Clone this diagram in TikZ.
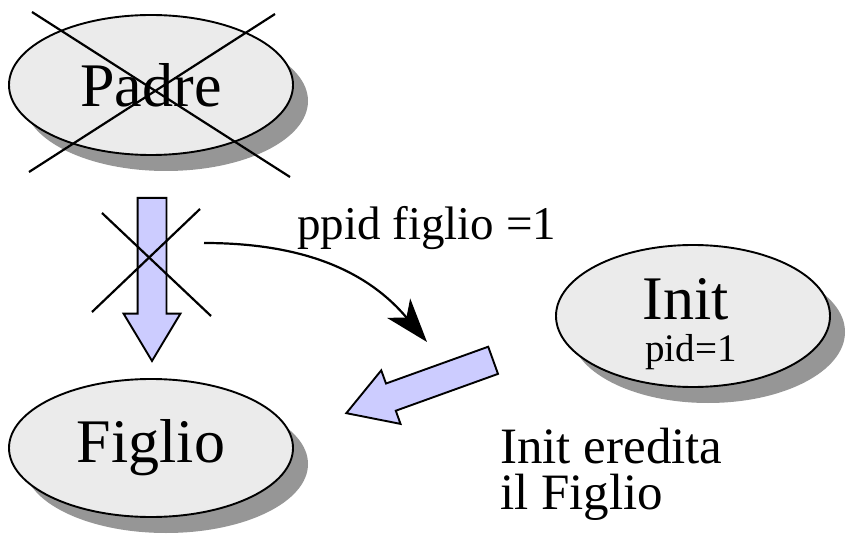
\documentclass[tikz,border=0pt]{standalone}
\usepackage{fontspec}
\setmainfont{Liberation Serif}
\usetikzlibrary{shapes.geometric,shapes.arrows,shadows,arrows.meta}
\definecolor{procgray}{RGB}{235,235,235}
\definecolor{shadowgray}{RGB}{150,150,150}
\definecolor{arrowblue}{RGB}{204,204,255}
\newcommand{\bigfont}{\fontsize{62}{70}\selectfont}
\newcommand{\ppidfont}{\fontsize{47}{52}\selectfont}
\newcommand{\notefont}{\fontsize{51}{46}\selectfont}
\newcommand{\smallfont}{\fontsize{39}{44}\selectfont}
\tikzset{
  proc/.style={ellipse, draw, line width=1.9pt, fill=procgray, inner sep=0pt,
    drop shadow={shadow xshift=15pt, shadow yshift=-16pt, fill=shadowgray, opacity=1}},
  fatarrow/.style={single arrow, draw, line width=1.9pt, fill=arrowblue,
    inner xsep=0pt, inner ysep=13.5pt, single arrow head extend=14pt,
    single arrow tip angle=62, single arrow head indent=0pt, anchor=tail},
  cross/.style={line width=2.2pt}
}
\begin{document}
\begin{tikzpicture}[x=1pt,y=-1pt]
\useasboundingbox (0,0) rectangle (859,534);
% processes
\node[proc, minimum width=284pt, minimum height=140pt] (padre) at (151,85) {\bigfont Padre};
\node[proc, minimum width=284pt, minimum height=138pt] (figlio) at (151,448) {\bigfont Figlio};
\node[proc, minimum width=274pt, minimum height=142pt] (init) at (693,316) {};
\node[anchor=base, inner sep=0pt] (initname) at (686,320) {\bigfont Init};
\node[anchor=base, inner sep=0pt] (initpid) at (691,362) {\smallfont pid=1};
% padre is gone
\draw[cross] (32,12) -- (290,177);
\draw[cross] (275,14) -- (29,172);
% fork arrow, crossed out
\node[fatarrow, minimum height=163pt, rotate=-90] (down) at (152,197) {};
\draw[cross] (102,213) -- (211,316);
\draw[cross] (200,209) -- (92,312);
% reparenting
\node[anchor=base west, inner sep=0pt, font=\ppidfont] (ppid) at (297,240) {ppid figlio =1};
\coordinate (cstart) at (204,243);
\coordinate (cend) at (427,342);
\draw[line width=2.2pt, -{Stealth[length=44pt, width=30pt, inset=12pt]}]
  (cstart) to[out=0, in=130] (cend);
\node[fatarrow, minimum height=156pt, rotate=199.8] (inherit) at (494,360) {};
\node[anchor=base west, align=left, inner sep=0pt, font=\notefont] (note) at (500,509)
  {Init eredita\\il Figlio};
\end{tikzpicture}
\end{document}
